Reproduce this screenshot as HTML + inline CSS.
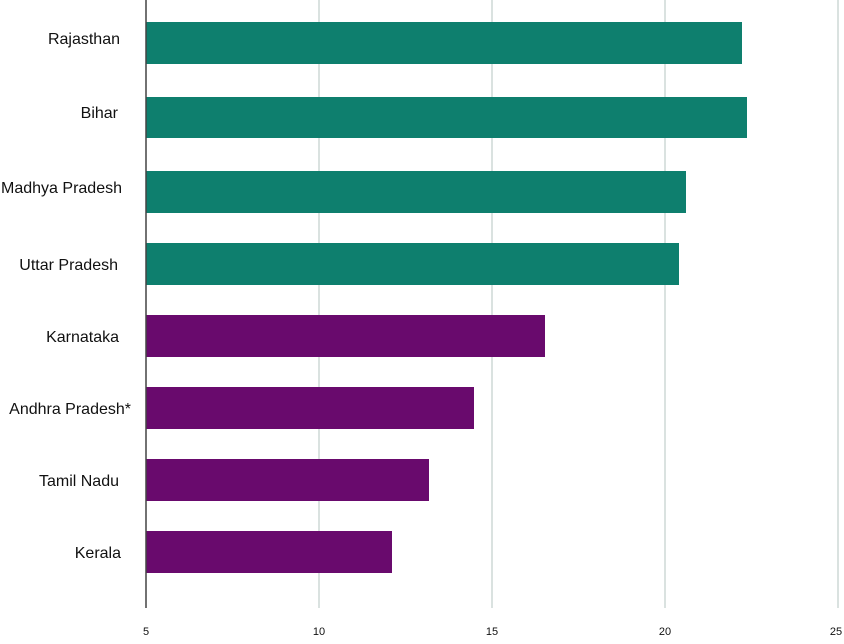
<!DOCTYPE html>
<html><head><style>
body{margin:0;background:#fff;}
svg text{font-family:"Liberation Sans",Arial,sans-serif;}
</style></head><body>
<svg width="844" height="639" xmlns="http://www.w3.org/2000/svg">
<g stroke="#b5c4c0" stroke-width="1">
<line x1="319" y1="0" x2="319" y2="608"/>
<line x1="492" y1="0" x2="492" y2="608"/>
<line x1="665" y1="0" x2="665" y2="608"/>
<line x1="838" y1="0" x2="838" y2="608"/>
</g>
<g fill="#0e7f6e">
<rect x="146" y="22" width="596" height="42"/>
<rect x="146" y="97" width="601" height="41"/>
<rect x="146" y="171" width="540" height="42"/>
<rect x="146" y="243" width="533" height="42"/>
</g>
<g fill="#690a6d">
<rect x="146" y="315" width="399" height="42"/>
<rect x="146" y="387" width="328" height="42"/>
<rect x="146" y="459" width="283" height="42"/>
<rect x="146" y="531" width="246" height="42"/>
</g>
<line x1="146" y1="0" x2="146" y2="608" stroke="#444" stroke-width="1.5"/>
<g font-size="16" fill="#111" text-anchor="end">
<text x="120" y="44">Rajasthan</text>
<text x="118" y="118">Bihar</text>
<text x="122" y="193">Madhya Pradesh</text>
<text x="118" y="270">Uttar Pradesh</text>
<text x="119" y="342">Karnataka</text>
<text x="131" y="414">Andhra Pradesh*</text>
<text x="119" y="486">Tamil Nadu</text>
<text x="121" y="558">Kerala</text>
</g>
<g font-size="11" fill="#111" text-anchor="middle">
<text x="146" y="635">5</text>
<text x="319" y="635">10</text>
<text x="492" y="635">15</text>
<text x="665" y="635">20</text>
<text x="836" y="635">25</text>
</g>
</svg>
</body></html>
